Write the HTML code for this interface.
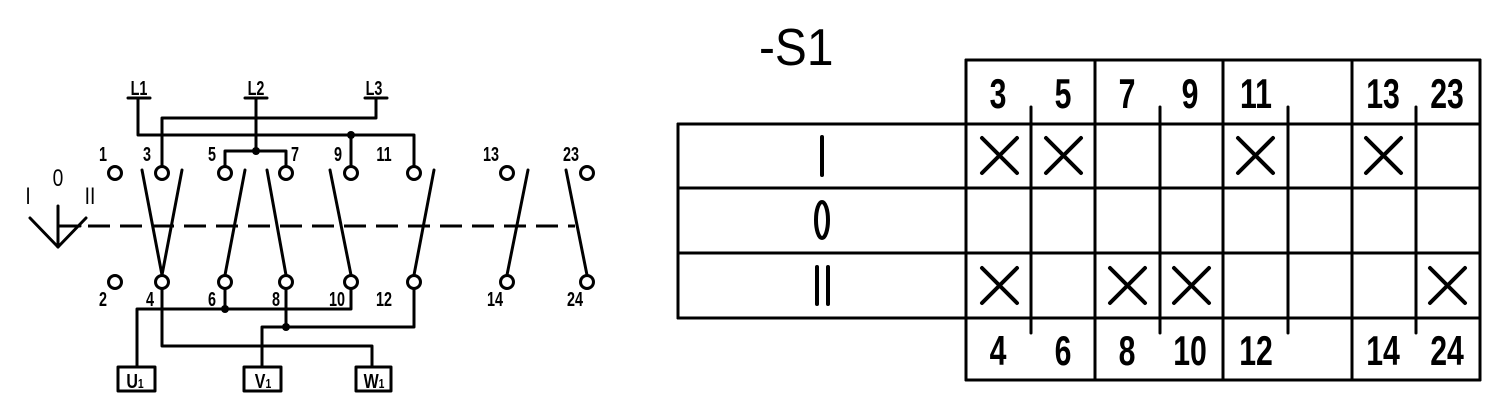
<!DOCTYPE html>
<html><head><meta charset="utf-8"><style>
html,body{margin:0;padding:0;background:#fff;}
svg{display:block;}
.b{font-family:"Liberation Sans",sans-serif;font-weight:bold;}
.t{font-family:"Liberation Sans",sans-serif;}
</style></head><body>
<svg width="1505" height="407" viewBox="0 0 1505 407" xmlns="http://www.w3.org/2000/svg">
<g stroke="#000" stroke-width="3" fill="none" stroke-linecap="round" stroke-linejoin="round">
<line x1="128" y1="98" x2="150" y2="98"/>
<line x1="245" y1="98" x2="267" y2="98"/>
<line x1="365" y1="98" x2="387" y2="98"/>
<polyline points="138,98 138,135 414,135 414,166"/>
<line x1="351" y1="135" x2="351" y2="166"/>
<polyline points="376,98 376,118 162,118 162,166"/>
<line x1="256" y1="98" x2="256" y2="151"/>
<polyline points="225,166 225,151 286,151 286,166"/>
<circle cx="115" cy="173" r="6.5"/><circle cx="162" cy="173" r="6.5"/><circle cx="225" cy="173" r="6.5"/><circle cx="286" cy="173" r="6.5"/>
<circle cx="351" cy="173" r="6.5"/><circle cx="414" cy="173" r="6.5"/><circle cx="507" cy="173" r="6.5"/><circle cx="587" cy="173" r="6.5"/>
<circle cx="115" cy="282" r="6.5"/><circle cx="162" cy="282" r="6.5"/><circle cx="225" cy="282" r="6.5"/><circle cx="286" cy="282" r="6.5"/>
<circle cx="351" cy="282" r="6.5"/><circle cx="414" cy="282" r="6.5"/><circle cx="507" cy="282" r="6.5"/><circle cx="587" cy="282" r="6.5"/>
<line x1="162" y1="275" x2="142" y2="170"/><line x1="162" y1="275" x2="182" y2="170"/>
<line x1="225" y1="275" x2="245" y2="170"/><line x1="286" y1="275" x2="267" y2="170"/>
<line x1="351" y1="275" x2="330" y2="170"/><line x1="414" y1="275" x2="434" y2="170"/>
<line x1="507" y1="275" x2="528" y2="170"/><line x1="587" y1="275" x2="566" y2="170"/>
<line x1="88" y1="226" x2="575" y2="226" stroke-dasharray="22 10" stroke-linecap="butt"/>
<polyline points="30,218 58,247 86,218"/>
<line x1="58" y1="206" x2="58" y2="247"/>
<line x1="58" y1="226" x2="80" y2="226"/>
<polyline points="162,289 162,346 372,346 372,367"/>
<polyline points="137,367 137,309 351,309 351,289"/>
<line x1="225" y1="289" x2="225" y2="309"/>
<polyline points="262,367 262,327 414,327 414,289"/>
<line x1="286" y1="289" x2="286" y2="327"/>
<rect x="118" y="367" width="37" height="24"/>
<rect x="244" y="367" width="37" height="24"/>
<rect x="356" y="367" width="35" height="24"/>
<line x1="966" y1="60" x2="1480" y2="60"/>
<line x1="678" y1="124" x2="1480" y2="124"/>
<line x1="678" y1="188" x2="1480" y2="188"/>
<line x1="678" y1="253" x2="1480" y2="253"/>
<line x1="678" y1="318" x2="1480" y2="318"/>
<line x1="966" y1="380" x2="1480" y2="380"/>
<line x1="678" y1="124" x2="678" y2="318"/>
<line x1="966" y1="60" x2="966" y2="380"/>
<line x1="1095" y1="60" x2="1095" y2="380"/>
<line x1="1223" y1="60" x2="1223" y2="380"/>
<line x1="1352" y1="60" x2="1352" y2="380"/>
<line x1="1480" y1="60" x2="1480" y2="380"/>
<line x1="1031" y1="107" x2="1031" y2="333"/>
<line x1="1160" y1="107" x2="1160" y2="333"/>
<line x1="1288" y1="107" x2="1288" y2="333"/>
<line x1="1416" y1="107" x2="1416" y2="333"/>
<line x1="822" y1="137" x2="822" y2="175" stroke-width="4"/>
<ellipse cx="822" cy="220" rx="6" ry="18" stroke-width="4"/>
<line x1="817" y1="267" x2="817" y2="304" stroke-width="4"/>
<line x1="828" y1="267" x2="828" y2="304" stroke-width="4"/>
</g>
<g stroke="#000" stroke-width="4" stroke-linecap="round">
<path d="M982,138 L1017,173 M1017,138 L982,173"/>
<path d="M1046,138 L1081,173 M1081,138 L1046,173"/>
<path d="M1238,138 L1273,173 M1273,138 L1238,173"/>
<path d="M1366,138 L1401,173 M1401,138 L1366,173"/>
<path d="M982,268 L1017,303 M1017,268 L982,303"/>
<path d="M1110,268 L1145,303 M1145,268 L1110,303"/>
<path d="M1174,268 L1209,303 M1209,268 L1174,303"/>
<path d="M1430,268 L1465,303 M1465,268 L1430,303"/>
</g>
<g fill="#000">
<circle cx="351" cy="135" r="4"/><circle cx="256" cy="151" r="4"/><circle cx="225" cy="309" r="4"/><circle cx="286" cy="327" r="4"/>
</g>
<g class="b" font-size="20" text-anchor="middle">
<text transform="translate(139,95) scale(0.72,1)">L1</text>
<text transform="translate(256,95) scale(0.72,1)">L2</text>
<text transform="translate(374,95) scale(0.72,1)">L3</text>
<text transform="translate(103,161) scale(0.72,1)">1</text>
<text transform="translate(147,161) scale(0.72,1)">3</text>
<text transform="translate(212,161) scale(0.72,1)">5</text>
<text transform="translate(295,161) scale(0.72,1)">7</text>
<text transform="translate(338,161) scale(0.72,1)">9</text>
<text transform="translate(384,161) scale(0.72,1)">11</text>
<text transform="translate(491,161) scale(0.72,1)">13</text>
<text transform="translate(571,161) scale(0.72,1)">23</text>
<text transform="translate(103,306) scale(0.72,1)">2</text>
<text transform="translate(150,306) scale(0.72,1)">4</text>
<text transform="translate(212,306) scale(0.72,1)">6</text>
<text transform="translate(276,306) scale(0.72,1)">8</text>
<text transform="translate(337,306) scale(0.72,1)">10</text>
<text transform="translate(384,306) scale(0.72,1)">12</text>
<text transform="translate(495,306) scale(0.72,1)">14</text>
<text transform="translate(575,306) scale(0.72,1)">24</text>
<text transform="translate(135,388) scale(0.8,1)">U<tspan font-size="13">1</tspan></text>
<text transform="translate(263,388) scale(0.8,1)">V<tspan font-size="13">1</tspan></text>
<text transform="translate(374,388) scale(0.8,1)">W<tspan font-size="13">1</tspan></text>
</g>
<g class="t" font-size="24" text-anchor="middle">
<text transform="translate(28,204) scale(0.8,1)">I</text>
<text transform="translate(58,186) scale(0.8,1)">0</text>
<text transform="translate(90,204) scale(0.8,1)">II</text>
</g>
<text class="t" transform="translate(759,65) scale(0.92,1)" font-size="52">-S1</text>
<g class="b" font-size="42" text-anchor="middle">
<text transform="translate(998,108) scale(0.72,1)">3</text>
<text transform="translate(1063,108) scale(0.72,1)">5</text>
<text transform="translate(1127,108) scale(0.72,1)">7</text>
<text transform="translate(1190,108) scale(0.72,1)">9</text>
<text transform="translate(1256,108) scale(0.72,1)">11</text>
<text transform="translate(1383,108) scale(0.72,1)">13</text>
<text transform="translate(1447,108) scale(0.72,1)">23</text>
<text transform="translate(998,365) scale(0.72,1)">4</text>
<text transform="translate(1063,365) scale(0.72,1)">6</text>
<text transform="translate(1127,365) scale(0.72,1)">8</text>
<text transform="translate(1190,365) scale(0.72,1)">10</text>
<text transform="translate(1256,365) scale(0.72,1)">12</text>
<text transform="translate(1383,365) scale(0.72,1)">14</text>
<text transform="translate(1447,365) scale(0.72,1)">24</text>
</g>
</svg>
</body></html>
